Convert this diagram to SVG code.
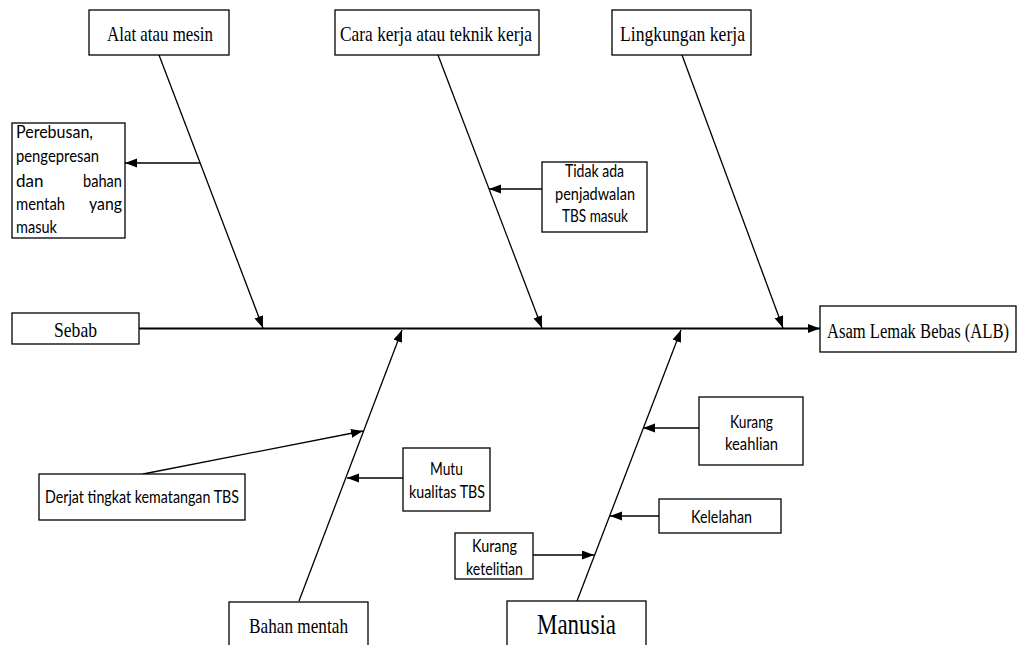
<svg xmlns="http://www.w3.org/2000/svg" width="1018" height="645" viewBox="0 0 1018 645">
<style>
  .box { fill: #ffffff; stroke: #000000; stroke-width: 1.3; }
  .serif { font-family: "Liberation Serif", "Times New Roman", serif; fill: #000000; }
  .sans { font-family: Lato, "Open Sans", "Liberation Sans", sans-serif; font-size: 17px; fill: #000000; }
  .bone { stroke: #000000; stroke-width: 1.3; fill: none; }
  .spine { stroke: #000000; stroke-width: 2; fill: none; }
</style>
<defs>
  <marker id="arr" markerUnits="userSpaceOnUse" markerWidth="13" markerHeight="10" refX="12" refY="4.5" orient="auto" viewBox="0 0 13 10">
    <path d="M0,0 L12,4.5 L0,9 z" fill="#000000"/>
  </marker>
</defs>
<rect width="1018" height="645" fill="#ffffff"/>

<g id="connectors">
  <line class="spine" x1="139" y1="328.5" x2="820" y2="328.5" marker-end="url(#arr)"/>
  <line class="bone" x1="159" y1="55" x2="263" y2="328" marker-end="url(#arr)"/>
  <line class="bone" x1="438" y1="55" x2="542" y2="328" marker-end="url(#arr)"/>
  <line class="bone" x1="682" y1="55" x2="783" y2="328" marker-end="url(#arr)"/>
  <line class="bone" x1="299" y1="601" x2="402" y2="330" marker-end="url(#arr)"/>
  <line class="bone" x1="577" y1="601" x2="681" y2="330" marker-end="url(#arr)"/>
  <line class="bone" x1="200" y1="163" x2="125" y2="163" marker-end="url(#arr)"/>
  <line class="bone" x1="542" y1="189" x2="489" y2="189" marker-end="url(#arr)"/>
  <line class="bone" x1="143" y1="474" x2="363" y2="431" marker-end="url(#arr)"/>
  <line class="bone" x1="403" y1="478" x2="347" y2="478" marker-end="url(#arr)"/>
  <line class="bone" x1="699" y1="428" x2="643" y2="428" marker-end="url(#arr)"/>
  <line class="bone" x1="659" y1="516" x2="610" y2="516" marker-end="url(#arr)"/>
  <line class="bone" x1="533" y1="555" x2="594" y2="555" marker-end="url(#arr)"/>
</g>

<g id="node-alat">
  <rect class="box" x="89" y="10" width="140" height="45"/>
  <text class="serif" x="160" y="41" font-size="21" text-anchor="middle" textLength="106" lengthAdjust="spacingAndGlyphs">Alat atau mesin</text>
</g>
<g id="node-cara">
  <rect class="box" x="335" y="10" width="204" height="45"/>
  <text class="serif" x="436" y="41" font-size="21" text-anchor="middle" textLength="192" lengthAdjust="spacingAndGlyphs">Cara kerja atau teknik kerja</text>
</g>
<g id="node-lingkungan">
  <rect class="box" x="612" y="10" width="139" height="45"/>
  <text class="serif" x="682.5" y="41" font-size="21" text-anchor="middle" textLength="125" lengthAdjust="spacingAndGlyphs">Lingkungan kerja</text>
</g>
<g id="node-sebab">
  <rect class="box" x="12" y="313" width="127" height="31"/>
  <text class="serif" x="75.5" y="337" font-size="21" text-anchor="middle" textLength="43" lengthAdjust="spacingAndGlyphs">Sebab</text>
</g>
<g id="node-alb">
  <rect class="box" x="820" y="306" width="196" height="46"/>
  <text class="serif" x="827" y="338" font-size="20" textLength="182" lengthAdjust="spacingAndGlyphs">Asam Lemak Bebas (ALB)</text>
</g>
<g id="node-bahan">
  <rect class="box" x="229" y="602" width="139" height="60"/>
  <text class="serif" x="298.5" y="633" font-size="21" text-anchor="middle" textLength="99" lengthAdjust="spacingAndGlyphs">Bahan mentah</text>
</g>
<g id="node-manusia">
  <rect class="box" x="507" y="601" width="139" height="60"/>
  <text class="serif" x="576.5" y="634" font-size="30" text-anchor="middle" textLength="79" lengthAdjust="spacingAndGlyphs">Manusia</text>
</g>

<g id="node-perebusan">
  <rect class="box" x="12" y="123" width="113" height="115"/>
  <text class="sans" x="16" y="138" textLength="77" lengthAdjust="spacingAndGlyphs">Perebusan,</text>
  <text class="sans" x="16" y="162" textLength="83" lengthAdjust="spacingAndGlyphs">pengepresan</text>
  <text class="sans" x="16" y="187">dan</text>
  <text class="sans" x="122" y="187" text-anchor="end" textLength="39" lengthAdjust="spacingAndGlyphs">bahan</text>
  <text class="sans" x="16" y="210" textLength="49" lengthAdjust="spacingAndGlyphs">mentah</text>
  <text class="sans" x="122" y="210" text-anchor="end" textLength="33" lengthAdjust="spacingAndGlyphs">yang</text>
  <text class="sans" x="16" y="233" textLength="41" lengthAdjust="spacingAndGlyphs">masuk</text>
</g>
<g id="node-tidak">
  <rect class="box" x="542" y="162" width="105" height="70"/>
  <text class="sans" x="594.5" y="177" text-anchor="middle" textLength="59" lengthAdjust="spacingAndGlyphs">Tidak ada</text>
  <text class="sans" x="595" y="200" text-anchor="middle" textLength="80" lengthAdjust="spacingAndGlyphs">penjadwalan</text>
  <text class="sans" x="595" y="222" text-anchor="middle" textLength="66" lengthAdjust="spacingAndGlyphs">TBS masuk</text>
</g>
<g id="node-derjat">
  <rect class="box" x="39" y="474" width="206" height="46"/>
  <text class="sans" x="142" y="503" text-anchor="middle" textLength="194" lengthAdjust="spacingAndGlyphs">Derjat tingkat kematangan TBS</text>
</g>
<g id="node-mutu">
  <rect class="box" x="403" y="448" width="87" height="63"/>
  <text class="sans" x="446.5" y="475" text-anchor="middle" textLength="33" lengthAdjust="spacingAndGlyphs">Mutu</text>
  <text class="sans" x="447" y="498" text-anchor="middle" textLength="76" lengthAdjust="spacingAndGlyphs">kualitas TBS</text>
</g>
<g id="node-keahlian">
  <rect class="box" x="699" y="397" width="104" height="68"/>
  <text class="sans" x="751.5" y="428" text-anchor="middle" textLength="43" lengthAdjust="spacingAndGlyphs">Kurang</text>
  <text class="sans" x="751.5" y="450" text-anchor="middle" textLength="53" lengthAdjust="spacingAndGlyphs">keahlian</text>
</g>
<g id="node-kelelahan">
  <rect class="box" x="659" y="499" width="122" height="34"/>
  <text class="sans" x="721.5" y="523" text-anchor="middle" textLength="61" lengthAdjust="spacingAndGlyphs">Kelelahan</text>
</g>
<g id="node-ketelitian">
  <rect class="box" x="455" y="533" width="78" height="46"/>
  <text class="sans" x="494.5" y="552" text-anchor="middle" textLength="45" lengthAdjust="spacingAndGlyphs">Kurang</text>
  <text class="sans" x="494.5" y="575" text-anchor="middle" textLength="57" lengthAdjust="spacingAndGlyphs">ketelitian</text>
</g>
</svg>
